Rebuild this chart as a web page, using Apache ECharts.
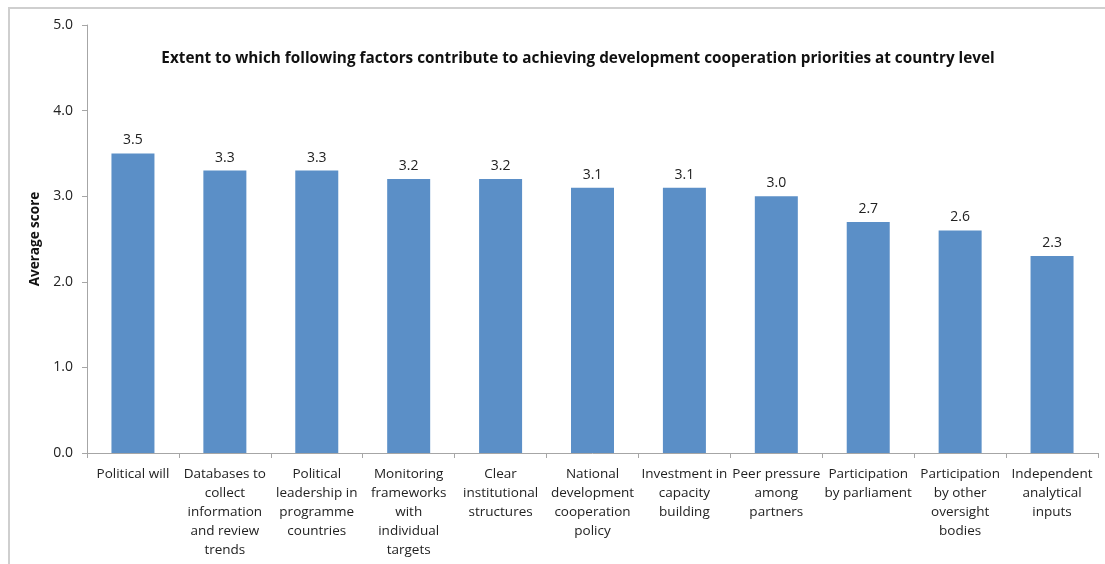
<!DOCTYPE html>
<html>
<head>
<meta charset="utf-8">
<script src="https://cdn.jsdelivr.net/npm/echarts@6/dist/echarts.min.js"></script>
<style>
  html, body { margin: 0; padding: 0; background: #fff; }
  #chart { width: 1105px; height: 564px; }
</style>
</head>
<body>
<div id="chart"></div>
<script>
// categories (line breaks as in the original chart)
const categories = [
  'Political will',
  'Databases to\ncollect\ninformation\nand review\ntrends',
  'Political\nleadership in\nprogramme\ncountries',
  'Monitoring\nframeworks\nwith\nindividual\ntargets',
  'Clear\ninstitutional\nstructures',
  'National\ndevelopment\ncooperation\npolicy',
  'Investment in\ncapacity\nbuilding',
  'Peer pressure\namong\npartners',
  'Participation\nby parliament',
  'Participation\nby other\noversight\nbodies',
  'Independent\nanalytical\ninputs'
]
const scores = [3.5, 3.3, 3.3, 3.2, 3.2, 3.1, 3.1, 3.0, 2.7, 2.6, 2.3]
const yTicks = [0, 1, 2, 3, 4, 5]

const font = '"Open Sans", "Liberation Sans", sans-serif'
const axisGray = '#a6a6a6'

const chart = echarts.init(document.getElementById('chart'), null, { renderer: 'canvas' })

chart.setOption({
  animation: false,
  textStyle: { fontFamily: font },
  title: {
    text: 'Extent to which following factors contribute to achieving development cooperation priorities at country level',
    left: 573,
    top: 46,
    textAlign: 'center',
    textStyle: { fontFamily: font, fontSize: 15.3, fontWeight: 'bold', color: '#111' }
  },
  graphic: [{
    type: 'rect',
    shape: { x: 9, y: 8, width: 1200, height: 700 },
    style: { fill: 'none', stroke: '#cfcfcf', lineWidth: 2 },
    silent: true
  }],
  grid: { left: 87, right: 7, top: 25, bottom: 111 },
  xAxis: {
    type: 'category',
    data: categories,
    axisLine: { lineStyle: { color: axisGray } },
    axisTick: { show: true, length: 5, lineStyle: { color: axisGray } },
    axisLabel: {
      interval: 0,
      margin: 12,
      fontSize: 13.5,
      lineHeight: 19,
      color: '#222',
      fontFamily: font
    }
  },
  yAxis: {
    type: 'value',
    min: yTicks[0],
    max: yTicks[yTicks.length - 1],
    interval: 1,
    name: 'Average score',
    nameLocation: 'middle',
    nameGap: 41,
    nameRotate: 90,
    nameTextStyle: { fontSize: 13.5, fontWeight: 'bold', color: '#111', fontFamily: font },
    axisLine: { show: true, lineStyle: { color: axisGray } },
    axisTick: { show: true, length: 5, lineStyle: { color: axisGray } },
    splitLine: { show: false },
    axisLabel: {
      margin: 14,
      fontSize: 14,
      color: '#222',
      fontFamily: font,
      formatter: v => v.toFixed(1)
    }
  },
  series: [{
    type: 'bar',
    data: scores,
    barWidth: 43,
    itemStyle: { color: '#5b8fc7' },
    label: {
      show: true,
      position: 'top',
      distance: 6,
      fontSize: 14,
      color: '#222',
      fontFamily: font,
      formatter: p => p.value.toFixed(1)
    }
  }]
})
</script>
</body>
</html>
